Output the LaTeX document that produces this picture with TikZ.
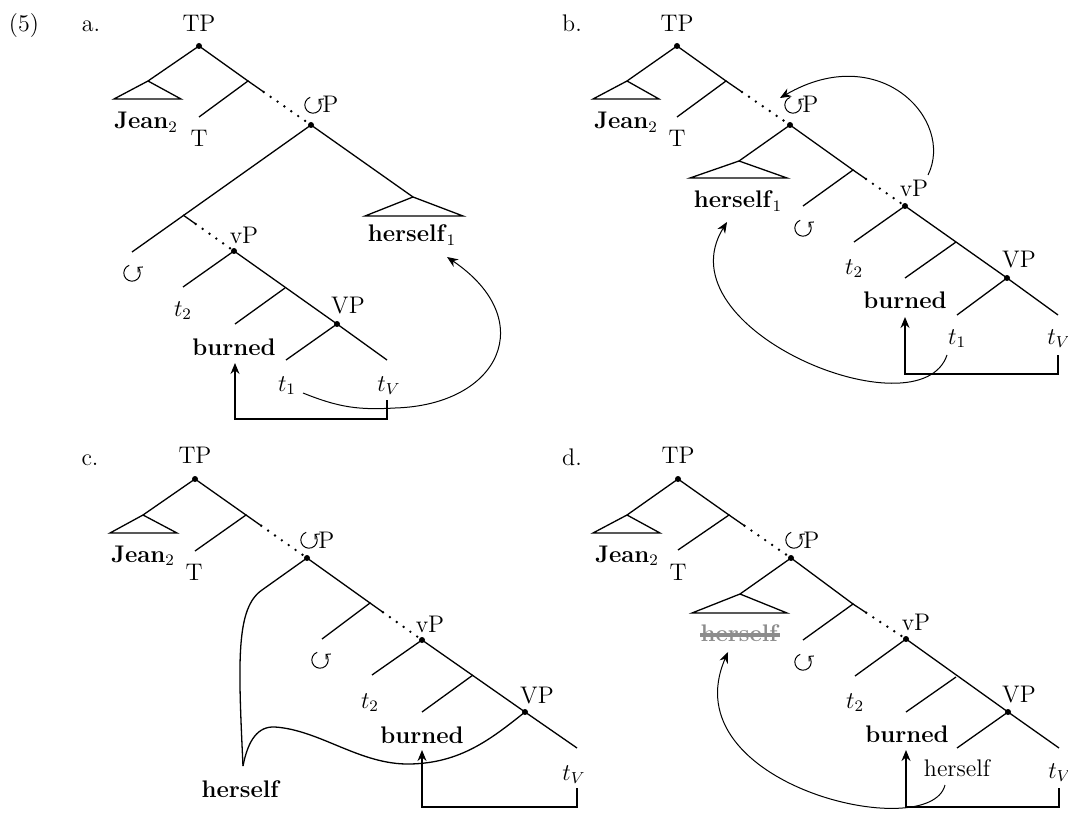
\documentclass[tikz,border=0pt]{standalone}
\usetikzlibrary{arrows.meta,calc}
\tikzset{circsym/.pic={\begin{scope}[x=1pt,y=1pt]
  \draw[line width=0.5pt,-{Straight Barb[length=1.7pt,width=3.6pt]}] (110:4.1) arc[start angle=110,end angle=408,radius=4.1];
  \end{scope}}}
\begin{document}
\begin{tikzpicture}[x=0.5pt,y=-0.5pt,
  every node/.style={inner sep=0pt,font=\fontsize{12}{14}\selectfont},
  lab/.style={anchor=base},
  plab/.style={anchor=base west},
  br/.style={line width=0.65pt},
  dotsl/.style={line width=1.35pt,dash pattern=on 0pt off 4.2pt,line cap=round},
  dotnode/.style={circle,fill,inner sep=0pt,minimum size=3pt},
  mv/.style={line width=0.5pt,-{Stealth[length=5.5pt,width=4.5pt]}},
  elb/.style={line width=0.6pt,-{Stealth[length=5.5pt,width=4.5pt]}},
  struck/.style={text=black!45}]
\useasboundingbox (0,0) rectangle (1068,812);

% ================= panel a =================
\node[lab] (ex) at (24,32) {(5)};
\node[lab] (la) at (91,32) {a.};
\node[lab] (TPla) at (199,32) {TP};
\node[lab] (Jeana) at (146,129) {\textbf{Jean}$_2$};
\node[lab] (Tla) at (199,147) {T};
\pic at (313,105) {circsym};
\node[plab] (CPla) at (322,113) {P};
\node[lab] (herselfa) at (412,242) {\textbf{herself}$_1$};
\pic at (132,273) {circsym};
\node[lab] (vPla) at (244,243) {vP};
\node[lab] (t2a) at (183,316) {$t_2$};
\node[lab] (burneda) at (234,355) {\textbf{burned}};
\node[lab] (VPla) at (348,313) {VP};
\node[lab] (t1a) at (287,391) {$t_1$};
\node[lab] (tVa) at (389,391) {$t_V$};

\node[dotnode] (TPa) at (199,46) {};
\node[dotnode] (CPa) at (311,125) {};
\node[dotnode] (vPa) at (234,251) {};
\node[dotnode] (VPa) at (337,324) {};
\coordinate (JTa) at (148,81); \coordinate (JLa) at (114,99); \coordinate (JRa) at (181,99);
\coordinate (Xa) at (248,81); \coordinate (Tea) at (199,117);
\coordinate (HTa) at (413,197); \coordinate (HLa) at (365,216); \coordinate (HRa) at (463,216);
\coordinate (Ya) at (183,215); \coordinate (Cea) at (132,252);
\coordinate (t2ea) at (183,287); \coordinate (Za) at (285,288); \coordinate (bea) at (235,324);
\coordinate (t1ea) at (286,360); \coordinate (tVea) at (387,360);

\draw[br] (JTa) -- (TPa.center) -- (Xa) -- (Tea);
\draw[br] (JLa) -- (JTa) -- (JRa) -- cycle;
\draw[br] (Xa) -- ($(Xa)!0.25!(CPa)$);
\draw[dotsl] ($(Xa)!0.25!(CPa)$) -- (CPa.center);
\draw[br] (Cea) -- (CPa.center) -- (HTa);
\draw[br] (HLa) -- (HTa) -- (HRa) -- cycle;
\draw[br] (Ya) -- ($(Ya)!0.25!(vPa)$);
\draw[dotsl] ($(Ya)!0.25!(vPa)$) -- (vPa.center);
\draw[br] (t2ea) -- (vPa.center) -- (VPa.center);
\draw[br] (Za) -- (bea);
\draw[br] (t1ea) -- (VPa.center) -- (tVea);

\coordinate (ea1) at (387,400); \coordinate (ea2) at (387,419);
\coordinate (ea3) at (235,419); \coordinate (ea4) at (235,363);
\draw[elb] (ea1) -- (ea2) -- (ea3) -- (ea4);
\coordinate (ma1) at (303,393); \coordinate (ma2) at (447,257);
\draw[mv] (ma1) .. controls (340,408) and (360,410) .. (395,408)
  .. controls (500,405) and (540,320) .. (ma2);

% ================= panel b =================
\node[lab] (lb) at (572,32) {b.};
\node[lab] (TPlb) at (677,32) {TP};
\node[lab] (Jeanb) at (626,129) {\textbf{Jean}$_2$};
\node[lab] (Tlb) at (677,147) {T};
\pic at (793,105) {circsym};
\node[plab] (CPlb) at (802,113) {P};
\node[lab] (herselfb) at (738,208) {\textbf{herself}$_1$};
\pic at (803,228) {circsym};
\node[lab] (vPlb) at (914,197) {vP};
\node[lab] (t2b) at (854,274) {$t_2$};
\node[lab] (burnedb) at (905,308) {\textbf{burned}};
\node[lab] (VPlb) at (1019,268) {VP};
\node[lab] (t1b) at (957,344) {$t_1$};
\node[lab] (tVb) at (1059,344) {$t_V$};

\node[dotnode] (TPb) at (677,46) {};
\node[dotnode] (CPb) at (790,125) {};
\node[dotnode] (vPb) at (905,206) {};
\node[dotnode] (VPb) at (1007,278) {};
\coordinate (JTb) at (627,81); \coordinate (JLb) at (593,99); \coordinate (JRb) at (659,99);
\coordinate (Xb) at (726,81); \coordinate (Teb) at (677,117);
\coordinate (HTb) at (739,161); \coordinate (HLb) at (690,178); \coordinate (HRb) at (787,178);
\coordinate (Yb) at (853,170); \coordinate (Ceb) at (803,206);
\coordinate (t2eb) at (854,242); \coordinate (Zb) at (956,242); \coordinate (beb) at (905,278);
\coordinate (t1eb) at (957,315); \coordinate (tVeb) at (1058,315);

\draw[br] (JTb) -- (TPb.center) -- (Xb) -- (Teb);
\draw[br] (JLb) -- (JTb) -- (JRb) -- cycle;
\draw[br] (Xb) -- ($(Xb)!0.25!(CPb)$);
\draw[dotsl] ($(Xb)!0.25!(CPb)$) -- (CPb.center);
\draw[br] (HTb) -- (CPb.center) -- (Yb) -- (Ceb);
\draw[br] (HLb) -- (HTb) -- (HRb) -- cycle;
\draw[br] (Yb) -- ($(Yb)!0.25!(vPb)$);
\draw[dotsl] ($(Yb)!0.25!(vPb)$) -- (vPb.center);
\draw[br] (t2eb) -- (vPb.center) -- (VPb.center);
\draw[br] (Zb) -- (beb);
\draw[br] (t1eb) -- (VPb.center) -- (tVeb);

\coordinate (eb1) at (1058,355); \coordinate (eb2) at (1058,374);
\coordinate (eb3) at (905,374); \coordinate (eb4) at (905,317);
\draw[elb] (eb1) -- (eb2) -- (eb3) -- (eb4);
\coordinate (mb1) at (947,355); \coordinate (mb2) at (727,222);
\draw[mv] (mb1) .. controls (920,435) and (660,330) .. (mb2);
\coordinate (mb3) at (928,175); \coordinate (mb4) at (780,98);
\draw[mv] (mb3) .. controls (955,120) and (880,40) .. (mb4);

% ================= panel c =================
\node[lab] (lc) at (90,465) {c.};
\node[lab] (TPlc) at (195,463) {TP};
\node[lab] (Jeanc) at (143,562) {\textbf{Jean}$_2$};
\node[lab] (Tlc) at (194,580) {T};
\pic at (309,540) {circsym};
\node[plab] (CPlc) at (318,548) {P};
\pic at (320,660) {circsym};
\node[lab] (vPlc) at (430,632) {vP};
\node[lab] (t2c) at (370,708) {$t_2$};
\node[lab] (burnedc) at (422,743) {\textbf{burned}};
\node[lab] (VPlc) at (537,703) {VP};
\node[lab] (tVc) at (574,780) {$t_V$};
\node[lab] (herselfc) at (241,797) {\textbf{herself}};

\node[dotnode] (TPc) at (195,479) {};
\node[dotnode] (CPc) at (307,558) {};
\node[dotnode] (vPc) at (422,640) {};
\node[dotnode] (VPc) at (525,712) {};
\coordinate (JTc) at (143,515); \coordinate (JLc) at (110,533); \coordinate (JRc) at (177,533);
\coordinate (Xc) at (246,515); \coordinate (Tec) at (195,551);
\coordinate (Yc) at (370,603); \coordinate (Cec) at (322,639);
\coordinate (t2ec) at (372,675); \coordinate (Zc) at (473,675); \coordinate (bec) at (422,712);
\coordinate (tVec) at (577,748);
\coordinate (Hbend) at (262,590); \coordinate (Htc) at (243,766);

\draw[br] (JTc) -- (TPc.center) -- (Xc) -- (Tec);
\draw[br] (JLc) -- (JTc) -- (JRc) -- cycle;
\draw[br] (Xc) -- ($(Xc)!0.25!(CPc)$);
\draw[dotsl] ($(Xc)!0.25!(CPc)$) -- (CPc.center);
\draw[br] (CPc.center) -- (Yc) -- (Cec);
\draw[br] (Yc) -- ($(Yc)!0.25!(vPc)$);
\draw[dotsl] ($(Yc)!0.25!(vPc)$) -- (vPc.center);
\draw[br] (t2ec) -- (vPc.center) -- (VPc.center);
\draw[br] (Zc) -- (bec);
\draw[br] (VPc.center) -- (tVec);
\draw[br] (CPc.center) -- (Hbend) .. controls (236,608) and (238,660) .. (Htc);
\draw[br] (Htc) .. controls (248,740) and (258,726) .. (275,727)
  .. controls (320,730) and (360,765) .. (410,764)
  .. controls (460,763) and (490,740) .. (VPc.center);

\coordinate (ec1) at (577,788); \coordinate (ec2) at (577,807);
\coordinate (ec3) at (422,807); \coordinate (ec4) at (422,750);
\draw[elb] (ec1) -- (ec2) -- (ec3) -- (ec4);

% ================= panel d =================
\node[lab] (ld) at (572,465) {d.};
\node[lab] (TPld) at (678,463) {TP};
\node[lab] (Jeand) at (627,562) {\textbf{Jean}$_2$};
\node[lab] (Tld) at (678,580) {T};
\pic at (794,540) {circsym};
\node[plab] (CPld) at (803,548) {P};
\node[lab,struck] (herselfgd) at (740,641) {\textbf{herself}};
\pic at (803,662) {circsym};
\node[lab] (vPld) at (916,630) {vP};
\node[lab] (t2d) at (855,708) {$t_2$};
\node[lab] (burnedd) at (907,742) {\textbf{burned}};
\node[lab] (VPld) at (1019,702) {VP};
\node[lab] (herselfd) at (957,776) {herself};
\node[lab] (tVd) at (1060,778) {$t_V$};

\draw[black!45,line width=1.8pt] (herselfgd.west |- 0,635) -- (herselfgd.east |- 0,635);

\node[dotnode] (TPd) at (678,479) {};
\node[dotnode] (CPd) at (791,558) {};
\node[dotnode] (vPd) at (906,639) {};
\node[dotnode] (VPd) at (1008,712) {};
\coordinate (JTd) at (627,515); \coordinate (JLd) at (593,533); \coordinate (JRd) at (660,533);
\coordinate (Xd) at (729,515); \coordinate (Ted) at (678,550);
\coordinate (HTd) at (740,594); \coordinate (HLd) at (692,613); \coordinate (HRd) at (787,613);
\coordinate (Yd) at (853,604); \coordinate (Ced) at (803,640);
\coordinate (t2ed) at (855,676); \coordinate (Zd) at (956,677); \coordinate (bed) at (906,712);
\coordinate (hed) at (957,748); \coordinate (tVed) at (1059,748);

\draw[br] (JTd) -- (TPd.center) -- (Xd) -- (Ted);
\draw[br] (JLd) -- (JTd) -- (JRd) -- cycle;
\draw[br] (Xd) -- ($(Xd)!0.25!(CPd)$);
\draw[dotsl] ($(Xd)!0.25!(CPd)$) -- (CPd.center);
\draw[br] (HTd) -- (CPd.center) -- (Yd) -- (Ced);
\draw[br] (HLd) -- (HTd) -- (HRd) -- cycle;
\draw[br] (Yd) -- ($(Yd)!0.25!(vPd)$);
\draw[dotsl] ($(Yd)!0.25!(vPd)$) -- (vPd.center);
\draw[br] (t2ed) -- (vPd.center) -- (VPd.center);
\draw[br] (Zd) -- (bed);
\draw[br] (hed) -- (VPd.center) -- (tVed);

\coordinate (ed1) at (1059,788); \coordinate (ed2) at (1059,807);
\coordinate (ed3) at (906,807); \coordinate (ed4) at (906,750);
\draw[elb] (ed1) -- (ed2) -- (ed3) -- (ed4);
\coordinate (md1) at (945,785); \coordinate (md2) at (728,652);
\draw[mv] (md1) .. controls (930,845) and (670,785) .. (md2);
\end{tikzpicture}
\end{document}
